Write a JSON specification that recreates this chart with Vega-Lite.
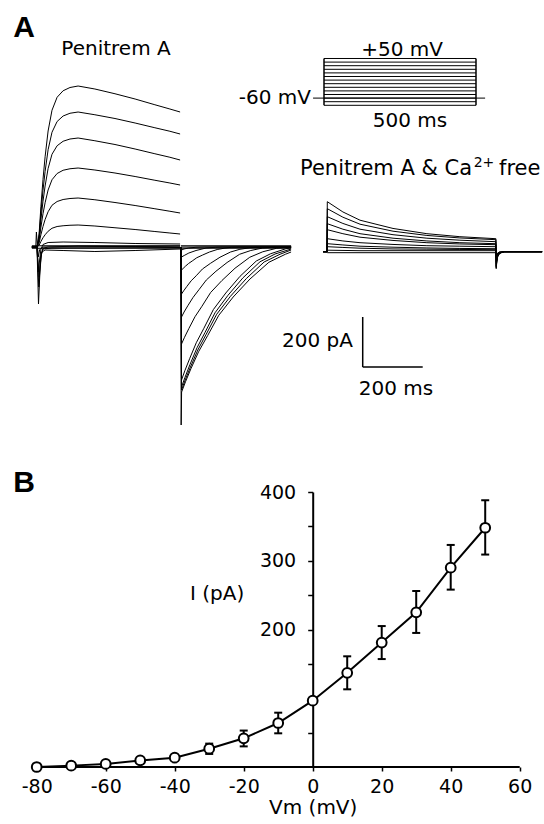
{
"$schema": "https://vega.github.io/schema/vega-lite/v6.json",
"padding": 0,
"spacing": 0,
"bounds": "flush",
"background": "white",
"config": {"view": {"stroke": null}, "font": "DejaVu Sans", "text": {"font": "DejaVu Sans", "color": "black"},
 "axisX": {"domain": false, "grid": false, "tickSize": 4, "tickWidth": 1.5, "tickColor": "black", "labelFont": "DejaVu Sans", "labelFontSize": 19, "labelColor": "black", "labelPadding": 6, "labelFlush": false, "labelOverlap": false, "titleFont": "DejaVu Sans", "titleFontSize": 20, "titleFontWeight": "normal", "titleColor": "black", "titleX": 312.7, "titleY": 46, "titleBaseline": "alphabetic"},
 "axisY": {"grid": false, "domainWidth": 2, "domainColor": "black", "tickSize": 5, "tickWidth": 1.5, "tickColor": "black", "labelFont": "DejaVu Sans", "labelFontSize": 19, "labelColor": "black", "labelPadding": 12}
},
"datasets": {
"lt": [
{"k":"p1","t":-17,"i":0},{"k":"p1","t":0,"i":0},{"k":"p1","t":7,"i":52},{"k":"p1","t":13,"i":161},{"k":"p1","t":20,"i":270},{"k":"p1","t":27,"i":361},{"k":"p1","t":37,"i":464},{"k":"p1","t":50,"i":547},{"k":"p1","t":67,"i":599},{"k":"p1","t":87,"i":625},{"k":"p1","t":110,"i":638},{"k":"p1","t":137,"i":644},{"k":"p1","t":193,"i":632},{"k":"p1","t":260,"i":613},{"k":"p1","t":327,"i":592},{"k":"p1","t":393,"i":569},{"k":"p1","t":443,"i":552},{"k":"p1","t":477,"i":540},
{"k":"p2","t":-17,"i":0},{"k":"p2","t":0,"i":0},{"k":"p2","t":7,"i":43},{"k":"p2","t":13,"i":135},{"k":"p2","t":20,"i":227},{"k":"p2","t":27,"i":302},{"k":"p2","t":37,"i":389},{"k":"p2","t":50,"i":459},{"k":"p2","t":67,"i":502},{"k":"p2","t":87,"i":524},{"k":"p2","t":110,"i":535},{"k":"p2","t":137,"i":540},{"k":"p2","t":193,"i":529},{"k":"p2","t":260,"i":514},{"k":"p2","t":327,"i":496},{"k":"p2","t":393,"i":477},{"k":"p2","t":443,"i":463},{"k":"p2","t":477,"i":452},
{"k":"p3","t":-17,"i":0},{"k":"p3","t":0,"i":0},{"k":"p3","t":7,"i":35},{"k":"p3","t":13,"i":109},{"k":"p3","t":20,"i":183},{"k":"p3","t":27,"i":244},{"k":"p3","t":37,"i":314},{"k":"p3","t":50,"i":371},{"k":"p3","t":67,"i":405},{"k":"p3","t":87,"i":423},{"k":"p3","t":110,"i":432},{"k":"p3","t":137,"i":436},{"k":"p3","t":193,"i":425},{"k":"p3","t":260,"i":410},{"k":"p3","t":327,"i":392},{"k":"p3","t":393,"i":373},{"k":"p3","t":443,"i":359},{"k":"p3","t":477,"i":348},
{"k":"p4","t":-17,"i":0},{"k":"p4","t":0,"i":0},{"k":"p4","t":7,"i":25},{"k":"p4","t":13,"i":79},{"k":"p4","t":20,"i":133},{"k":"p4","t":27,"i":177},{"k":"p4","t":37,"i":228},{"k":"p4","t":50,"i":269},{"k":"p4","t":67,"i":294},{"k":"p4","t":87,"i":307},{"k":"p4","t":110,"i":313},{"k":"p4","t":137,"i":316},{"k":"p4","t":193,"i":308},{"k":"p4","t":260,"i":296},{"k":"p4","t":327,"i":282},{"k":"p4","t":393,"i":267},{"k":"p4","t":443,"i":256},{"k":"p4","t":477,"i":248},
{"k":"p5","t":-17,"i":0},{"k":"p5","t":0,"i":0},{"k":"p5","t":7,"i":16},{"k":"p5","t":13,"i":49},{"k":"p5","t":20,"i":82},{"k":"p5","t":27,"i":110},{"k":"p5","t":37,"i":141},{"k":"p5","t":50,"i":167},{"k":"p5","t":67,"i":182},{"k":"p5","t":87,"i":190},{"k":"p5","t":110,"i":194},{"k":"p5","t":137,"i":196},{"k":"p5","t":193,"i":189},{"k":"p5","t":260,"i":178},{"k":"p5","t":327,"i":166},{"k":"p5","t":393,"i":153},{"k":"p5","t":443,"i":143},{"k":"p5","t":477,"i":136},
{"k":"p6","t":-17,"i":0},{"k":"p6","t":0,"i":0},{"k":"p6","t":7,"i":7},{"k":"p6","t":13,"i":22},{"k":"p6","t":20,"i":37},{"k":"p6","t":27,"i":49},{"k":"p6","t":37,"i":63},{"k":"p6","t":50,"i":75},{"k":"p6","t":67,"i":82},{"k":"p6","t":87,"i":85},{"k":"p6","t":110,"i":87},{"k":"p6","t":137,"i":88},{"k":"p6","t":193,"i":84},{"k":"p6","t":260,"i":77},{"k":"p6","t":327,"i":70},{"k":"p6","t":393,"i":62},{"k":"p6","t":443,"i":56},{"k":"p6","t":477,"i":52},
{"k":"p7","t":-17,"i":0},{"k":"p7","t":0,"i":0},{"k":"p7","t":4,"i":-100},{"k":"p7","t":8,"i":-60},{"k":"p7","t":13,"i":-10},{"k":"p7","t":20,"i":10},{"k":"p7","t":37,"i":18},{"k":"p7","t":87,"i":20},{"k":"p7","t":193,"i":18},{"k":"p7","t":327,"i":14},{"k":"p7","t":477,"i":12},
{"k":"p8","t":-17,"i":0},{"k":"p8","t":0,"i":0},{"k":"p8","t":5,"i":-228},{"k":"p8","t":9,"i":-120},{"k":"p8","t":14,"i":-30},{"k":"p8","t":20,"i":-5},{"k":"p8","t":37,"i":0},{"k":"p8","t":137,"i":4},{"k":"p8","t":327,"i":2},{"k":"p8","t":477,"i":0},
{"k":"p9","t":-17,"i":0},{"k":"p9","t":0,"i":0},{"k":"p9","t":6,"i":-160},{"k":"p9","t":10,"i":-80},{"k":"p9","t":16,"i":-20},{"k":"p9","t":27,"i":-12},{"k":"p9","t":87,"i":-14},{"k":"p9","t":193,"i":-18},{"k":"p9","t":327,"i":-14},{"k":"p9","t":477,"i":-8},
{"k":"p10","t":-17,"i":0},{"k":"p10","t":0,"i":0},{"k":"p10","t":7,"i":-120},{"k":"p10","t":12,"i":-40},{"k":"p10","t":20,"i":-8},{"k":"p10","t":50,"i":-4},{"k":"p10","t":477,"i":-2},
{"k":"p11","t":-17,"i":0},{"k":"p11","t":-4,"i":0},{"k":"p11","t":-2,"i":60},{"k":"p11","t":1,"i":10},{"k":"p11","t":4,"i":-40},{"k":"p11","t":9,"i":-10},{"k":"p11","t":20,"i":0},{"k":"p11","t":477,"i":4},
{"k":"p12","t":-17,"i":5},{"k":"p12","t":477,"i":5},
{"k":"p13","t":-17,"i":-5},{"k":"p13","t":477,"i":-5},
{"k":"q1","t":480,"i":0},{"k":"q1","t":480.5,"i":-712},{"k":"q1","t":482,"i":-580},{"k":"q1","t":495,"i":-539},{"k":"q1","t":513,"i":-487},{"k":"q1","t":539,"i":-418},{"k":"q1","t":569,"i":-354},{"k":"q1","t":606,"i":-273},{"k":"q1","t":654,"i":-200},{"k":"q1","t":710,"i":-128},{"k":"q1","t":773,"i":-61},{"k":"q1","t":828,"i":-29},{"k":"q1","t":847,"i":-20},
{"k":"q2","t":480,"i":0},{"k":"q2","t":481.7,"i":-572},{"k":"q2","t":494,"i":-532},{"k":"q2","t":511.5,"i":-480},{"k":"q2","t":536,"i":-412},{"k":"q2","t":564,"i":-349},{"k":"q2","t":599,"i":-269},{"k":"q2","t":645,"i":-197},{"k":"q2","t":698,"i":-126},{"k":"q2","t":757,"i":-60},{"k":"q2","t":810,"i":-29},{"k":"q2","t":847,"i":-12},
{"k":"q3","t":480,"i":0},{"k":"q3","t":481.7,"i":-560},{"k":"q3","t":493.4,"i":-521},{"k":"q3","t":510,"i":-470},{"k":"q3","t":533.4,"i":-403},{"k":"q3","t":560,"i":-342},{"k":"q3","t":593.4,"i":-263},{"k":"q3","t":636.7,"i":-193},{"k":"q3","t":686.7,"i":-123},{"k":"q3","t":743.4,"i":-59},{"k":"q3","t":793.4,"i":-28},{"k":"q3","t":847,"i":-8},
{"k":"q4","t":480,"i":0},{"k":"q4","t":481.7,"i":-532},{"k":"q4","t":492.8,"i":-495},{"k":"q4","t":508.7,"i":-447},{"k":"q4","t":530.9,"i":-383},{"k":"q4","t":556.3,"i":-325},{"k":"q4","t":588,"i":-250},{"k":"q4","t":629.3,"i":-184},{"k":"q4","t":676.9,"i":-117},{"k":"q4","t":730.9,"i":-56},{"k":"q4","t":778.5,"i":-27},{"k":"q4","t":829.3,"i":-7},{"k":"q4","t":847,"i":-3},
{"k":"q5","t":480,"i":0},{"k":"q5","t":481.7,"i":-388},{"k":"q5","t":491.8,"i":-361},{"k":"q5","t":506.3,"i":-326},{"k":"q5","t":526.6,"i":-279},{"k":"q5","t":549.8,"i":-237},{"k":"q5","t":578.8,"i":-182},{"k":"q5","t":616.5,"i":-134},{"k":"q5","t":660,"i":-85},{"k":"q5","t":709.2,"i":-41},{"k":"q5","t":752.7,"i":-19},{"k":"q5","t":799,"i":-5},{"k":"q5","t":847,"i":0},
{"k":"q6","t":480,"i":0},{"k":"q6","t":481.7,"i":-280},{"k":"q6","t":490.3,"i":-260},{"k":"q6","t":502.7,"i":-235},{"k":"q6","t":520,"i":-202},{"k":"q6","t":539.7,"i":-171},{"k":"q6","t":564.4,"i":-132},{"k":"q6","t":596.5,"i":-97},{"k":"q6","t":633.6,"i":-62},{"k":"q6","t":675.5,"i":-29},{"k":"q6","t":712.6,"i":-14},{"k":"q6","t":752,"i":-4},{"k":"q6","t":803,"i":0},{"k":"q6","t":847,"i":0},
{"k":"q7","t":480,"i":0},{"k":"q7","t":481.7,"i":-188},{"k":"q7","t":489,"i":-175},{"k":"q7","t":499.4,"i":-158},{"k":"q7","t":514,"i":-135},{"k":"q7","t":530.7,"i":-115},{"k":"q7","t":551.5,"i":-88},{"k":"q7","t":578.6,"i":-65},{"k":"q7","t":609.8,"i":-41},{"k":"q7","t":645.2,"i":-20},{"k":"q7","t":676.5,"i":-9},{"k":"q7","t":709.8,"i":-3},{"k":"q7","t":752.5,"i":0},{"k":"q7","t":847,"i":0},
{"k":"q8","t":480,"i":0},{"k":"q8","t":481.7,"i":-92},{"k":"q8","t":487,"i":-86},{"k":"q8","t":494.6,"i":-77},{"k":"q8","t":505.2,"i":-66},{"k":"q8","t":517.3,"i":-56},{"k":"q8","t":532.5,"i":-43},{"k":"q8","t":552.2,"i":-32},{"k":"q8","t":574.9,"i":-20},{"k":"q8","t":600.6,"i":-10},{"k":"q8","t":623.4,"i":-5},{"k":"q8","t":647.6,"i":-1},{"k":"q8","t":678.7,"i":0},{"k":"q8","t":847,"i":0},
{"k":"q9","t":480,"i":0},{"k":"q9","t":481.7,"i":-40},{"k":"q9","t":490.6,"i":-34},{"k":"q9","t":506.2,"i":-24},{"k":"q9","t":530.1,"i":-14},{"k":"q9","t":563.5,"i":-4},{"k":"q9","t":595.7,"i":-1},{"k":"q9","t":617,"i":0},{"k":"q9","t":847,"i":0},
{"k":"q10","t":480,"i":0},{"k":"q10","t":481.7,"i":-12},{"k":"q10","t":490,"i":-8},{"k":"q10","t":505,"i":-4},{"k":"q10","t":530,"i":-1},{"k":"q10","t":560,"i":0},{"k":"q10","t":847,"i":0},
{"k":"q11","t":480,"i":0},{"k":"q11","t":847,"i":0},
{"k":"q12","t":480,"i":5},{"k":"q12","t":847,"i":5},
{"k":"q13","t":480,"i":-5},{"k":"q13","t":847,"i":-5}
],
"rt": [
{"k":"r1","t":-13,"i":0},{"k":"r1","t":0,"i":0},{"k":"r1","t":1,"i":200},{"k":"r1","t":53,"i":159},{"k":"r1","t":110,"i":126},{"k":"r1","t":220,"i":93},{"k":"r1","t":333,"i":72},{"k":"r1","t":443,"i":60},{"k":"r1","t":563,"i":52},{"k":"r1","t":564,"i":-68},{"k":"r1","t":566,"i":-41},{"k":"r1","t":569,"i":-20},{"k":"r1","t":575,"i":-7},{"k":"r1","t":590,"i":0},{"k":"r1","t":717,"i":0},
{"k":"r2","t":-13,"i":0},{"k":"r2","t":0,"i":0},{"k":"r2","t":1,"i":172},{"k":"r2","t":53,"i":138},{"k":"r2","t":110,"i":110},{"k":"r2","t":220,"i":82},{"k":"r2","t":333,"i":65},{"k":"r2","t":443,"i":55},{"k":"r2","t":563,"i":48},{"k":"r2","t":564,"i":-64},{"k":"r2","t":566,"i":-38},{"k":"r2","t":569,"i":-19},{"k":"r2","t":575,"i":-6},{"k":"r2","t":590,"i":0},{"k":"r2","t":717,"i":0},
{"k":"r3","t":-13,"i":0},{"k":"r3","t":0,"i":0},{"k":"r3","t":1,"i":140},{"k":"r3","t":53,"i":113},{"k":"r3","t":110,"i":90},{"k":"r3","t":220,"i":68},{"k":"r3","t":333,"i":54},{"k":"r3","t":443,"i":46},{"k":"r3","t":563,"i":40},{"k":"r3","t":564,"i":-60},{"k":"r3","t":566,"i":-36},{"k":"r3","t":569,"i":-18},{"k":"r3","t":575,"i":-6},{"k":"r3","t":590,"i":0},{"k":"r3","t":717,"i":0},
{"k":"r4","t":-13,"i":0},{"k":"r4","t":0,"i":0},{"k":"r4","t":1,"i":112},{"k":"r4","t":53,"i":90},{"k":"r4","t":110,"i":72},{"k":"r4","t":220,"i":54},{"k":"r4","t":333,"i":43},{"k":"r4","t":443,"i":36},{"k":"r4","t":563,"i":32},{"k":"r4","t":564,"i":-56},{"k":"r4","t":566,"i":-34},{"k":"r4","t":569,"i":-17},{"k":"r4","t":575,"i":-6},{"k":"r4","t":590,"i":0},{"k":"r4","t":717,"i":0},
{"k":"r5","t":-13,"i":0},{"k":"r5","t":0,"i":0},{"k":"r5","t":1,"i":88},{"k":"r5","t":53,"i":72},{"k":"r5","t":110,"i":58},{"k":"r5","t":220,"i":45},{"k":"r5","t":333,"i":36},{"k":"r5","t":443,"i":31},{"k":"r5","t":563,"i":28},{"k":"r5","t":564,"i":-48},{"k":"r5","t":566,"i":-29},{"k":"r5","t":569,"i":-14},{"k":"r5","t":575,"i":-5},{"k":"r5","t":590,"i":0},{"k":"r5","t":717,"i":0},
{"k":"r6","t":-13,"i":0},{"k":"r6","t":0,"i":0},{"k":"r6","t":1,"i":52},{"k":"r6","t":53,"i":43},{"k":"r6","t":110,"i":36},{"k":"r6","t":220,"i":29},{"k":"r6","t":333,"i":24},{"k":"r6","t":443,"i":22},{"k":"r6","t":563,"i":20},{"k":"r6","t":564,"i":-40},{"k":"r6","t":566,"i":-24},{"k":"r6","t":569,"i":-12},{"k":"r6","t":575,"i":-4},{"k":"r6","t":590,"i":0},{"k":"r6","t":717,"i":0},
{"k":"r7","t":-13,"i":0},{"k":"r7","t":0,"i":0},{"k":"r7","t":1,"i":32},{"k":"r7","t":53,"i":27},{"k":"r7","t":110,"i":22},{"k":"r7","t":220,"i":18},{"k":"r7","t":333,"i":15},{"k":"r7","t":443,"i":13},{"k":"r7","t":563,"i":12},{"k":"r7","t":564,"i":-32},{"k":"r7","t":566,"i":-19},{"k":"r7","t":569,"i":-10},{"k":"r7","t":575,"i":-3},{"k":"r7","t":590,"i":0},{"k":"r7","t":717,"i":0},
{"k":"r8","t":-13,"i":0},{"k":"r8","t":0,"i":0},{"k":"r8","t":1,"i":20},{"k":"r8","t":53,"i":17},{"k":"r8","t":110,"i":14},{"k":"r8","t":220,"i":11},{"k":"r8","t":333,"i":10},{"k":"r8","t":443,"i":9},{"k":"r8","t":563,"i":8},{"k":"r8","t":564,"i":-24},{"k":"r8","t":566,"i":-14},{"k":"r8","t":569,"i":-7},{"k":"r8","t":575,"i":-2},{"k":"r8","t":590,"i":0},{"k":"r8","t":717,"i":0},
{"k":"r9","t":-13,"i":0},{"k":"r9","t":0,"i":0},{"k":"r9","t":1,"i":6},{"k":"r9","t":110,"i":4},{"k":"r9","t":563,"i":4},{"k":"r9","t":564,"i":-20},{"k":"r9","t":566,"i":-12},{"k":"r9","t":569,"i":-6},{"k":"r9","t":575,"i":-2},{"k":"r9","t":590,"i":0},{"k":"r9","t":717,"i":0},
{"k":"r10","t":-13,"i":0},{"k":"r10","t":0,"i":0},{"k":"r10","t":1,"i":-4},{"k":"r10","t":563,"i":-4},{"k":"r10","t":564,"i":-16},{"k":"r10","t":566,"i":-10},{"k":"r10","t":569,"i":-5},{"k":"r10","t":575,"i":-2},{"k":"r10","t":590,"i":0},{"k":"r10","t":717,"i":0}
],
"pr": [
{"a":0,"b":500,"v":-80},{"a":0,"b":500,"v":-70},{"a":0,"b":500,"v":-60},{"a":0,"b":500,"v":-50},{"a":0,"b":500,"v":-40},{"a":0,"b":500,"v":-30},{"a":0,"b":500,"v":-20},{"a":0,"b":500,"v":-10},{"a":0,"b":500,"v":0},{"a":0,"b":500,"v":10},{"a":0,"b":500,"v":20},{"a":0,"b":500,"v":30},{"a":0,"b":500,"v":40},{"a":0,"b":500,"v":50}
],
"iv": [
{"vm":-80,"i":0,"lo":0,"hi":0},
{"vm":-70,"i":2,"lo":2,"hi":2},
{"vm":-60,"i":4.5,"lo":4.5,"hi":4.5},
{"vm":-50,"i":9.5,"lo":9.5,"hi":9.5},
{"vm":-40,"i":13.5,"lo":13.5,"hi":13.5},
{"vm":-30,"i":26.6,"lo":19,"hi":34},
{"vm":-20,"i":41.7,"lo":30,"hi":53},
{"vm":-10,"i":64,"lo":49,"hi":79},
{"vm":0,"i":96.5,"lo":96.5,"hi":96.5},
{"vm":10,"i":137,"lo":113,"hi":161},
{"vm":20,"i":181,"lo":157,"hi":205},
{"vm":30,"i":225,"lo":195,"hi":256},
{"vm":40,"i":290,"lo":258,"hi":323},
{"vm":50,"i":348,"lo":309,"hi":388}
]
},
"vconcat": [
{
"width": 544,
"height": 492,
"layer": [
{
"layer": [
{"data": {"name": "lt"},
 "mark": {"type": "line", "color": "black", "strokeWidth": 1},
 "encoding": {
  "x": {"field": "t", "type": "quantitative", "scale": {"domain": [-123.33, 1690], "nice": false, "zero": false}, "axis": null},
  "y": {"field": "i", "type": "quantitative", "scale": {"domain": [-980, 988], "nice": false, "zero": false}, "axis": null},
  "detail": {"field": "k"}}},
{"data": {"values": [{"t": 1085.7, "t2": 1085.7, "i": -480, "i2": -280}, {"t": 1085.7, "t2": 1285.7, "i": -480, "i2": -480}]},
 "mark": {"type": "rule", "color": "black", "strokeWidth": 1.5},
 "encoding": {
  "x": {"field": "t", "type": "quantitative", "scale": {"domain": [-123.33, 1690], "nice": false, "zero": false}, "axis": null},
  "x2": {"field": "t2"},
  "y": {"field": "i", "type": "quantitative", "scale": {"domain": [-980, 988], "nice": false, "zero": false}, "axis": null},
  "y2": {"field": "i2"}}},
{"data": {"values": [{"t": 263.3, "i": 768, "s": "Penitrem A"}, {"t": 1196.7, "i": -592, "s": "200 ms"}]},
 "mark": {"type": "text", "align": "center", "baseline": "alphabetic", "fontSize": 20, "font": "DejaVu Sans", "color": "black"},
 "encoding": {
  "x": {"field": "t", "type": "quantitative", "scale": {"domain": [-123.33, 1690], "nice": false, "zero": false}, "axis": null},
  "y": {"field": "i", "type": "quantitative", "scale": {"domain": [-980, 988], "nice": false, "zero": false}, "axis": null},
  "text": {"field": "s"}}},
{"data": {"values": [{"t": 1053.3, "i": -400, "s": "200 pA"}]},
 "mark": {"type": "text", "align": "right", "baseline": "alphabetic", "fontSize": 20, "font": "DejaVu Sans", "color": "black"},
 "encoding": {
  "x": {"field": "t", "type": "quantitative", "scale": {"domain": [-123.33, 1690], "nice": false, "zero": false}, "axis": null},
  "y": {"field": "i", "type": "quantitative", "scale": {"domain": [-980, 988], "nice": false, "zero": false}, "axis": null},
  "text": {"field": "s"}}},
{"data": {"values": [{"t": -43.3, "i": 840, "s": "A"}, {"t": -43.3, "i": -980, "s": "B"}]},
 "mark": {"type": "text", "align": "center", "baseline": "alphabetic", "fontSize": 30, "font": "Liberation Sans", "fontWeight": "bold", "color": "black"},
 "encoding": {
  "x": {"field": "t", "type": "quantitative", "scale": {"domain": [-123.33, 1690], "nice": false, "zero": false}, "axis": null},
  "y": {"field": "i", "type": "quantitative", "scale": {"domain": [-980, 988], "nice": false, "zero": false}, "axis": null},
  "text": {"field": "s"}}}
]
},
{
"layer": [
{"data": {"name": "rt"},
 "mark": {"type": "line", "color": "black", "strokeWidth": 1},
 "encoding": {
  "x": {"field": "t", "type": "quantitative", "scale": {"domain": [-1090, 723.33], "nice": false, "zero": false}, "axis": null},
  "y": {"field": "i", "type": "quantitative", "scale": {"domain": [-961.2, 1006.8], "nice": false, "zero": false}, "axis": null},
  "detail": {"field": "k"}}},
{"data": {"values": [{"t": -90, "i": 306.8, "s": "Penitrem A & Ca"}, {"t": 573.3, "i": 306.8, "s": "free"}]},
 "mark": {"type": "text", "align": "left", "baseline": "alphabetic", "fontSize": 21, "font": "DejaVu Sans", "color": "black"},
 "encoding": {
  "x": {"field": "t", "type": "quantitative", "scale": {"domain": [-1090, 723.33], "nice": false, "zero": false}, "axis": null},
  "y": {"field": "i", "type": "quantitative", "scale": {"domain": [-961.2, 1006.8], "nice": false, "zero": false}, "axis": null},
  "text": {"field": "s"}}},
{"data": {"values": [{"t": 489, "i": 338.8, "s": "2+"}]},
 "mark": {"type": "text", "align": "left", "baseline": "alphabetic", "fontSize": 14, "font": "DejaVu Sans", "color": "black"},
 "encoding": {
  "x": {"field": "t", "type": "quantitative", "scale": {"domain": [-1090, 723.33], "nice": false, "zero": false}, "axis": null},
  "y": {"field": "i", "type": "quantitative", "scale": {"domain": [-961.2, 1006.8], "nice": false, "zero": false}, "axis": null},
  "text": {"field": "s"}}}
]
},
{
"layer": [
{"data": {"name": "pr"},
 "mark": {"type": "rule", "color": "black", "strokeWidth": 1},
 "encoding": {
  "x": {"field": "a", "type": "quantitative", "scale": {"domain": [-1065.8, 723.7], "nice": false, "zero": false}, "axis": null},
  "x2": {"field": "b"},
  "y": {"field": "v", "type": "quantitative", "scale": {"domain": [-1154.2, 212.5], "nice": false, "zero": false}, "axis": null}}},
{"data": {"values": [{"a": 0, "v": -80, "v2": 50}, {"a": 500, "v": -80, "v2": 50}]},
 "mark": {"type": "rule", "color": "black", "strokeWidth": 1.5},
 "encoding": {
  "x": {"field": "a", "type": "quantitative", "scale": {"domain": [-1065.8, 723.7], "nice": false, "zero": false}, "axis": null},
  "y": {"field": "v", "type": "quantitative", "scale": {"domain": [-1154.2, 212.5], "nice": false, "zero": false}, "axis": null},
  "y2": {"field": "v2"}}},
{"data": {"values": [{"a": -36, "b": 530, "v": -60}]},
 "mark": {"type": "rule", "color": "black", "strokeWidth": 1},
 "encoding": {
  "x": {"field": "a", "type": "quantitative", "scale": {"domain": [-1065.8, 723.7], "nice": false, "zero": false}, "axis": null},
  "x2": {"field": "b"},
  "y": {"field": "v", "type": "quantitative", "scale": {"domain": [-1154.2, 212.5], "nice": false, "zero": false}, "axis": null}}},
{"data": {"values": [{"a": 256.6, "v": 56.9, "s": "+50 mV"}, {"a": 282.9, "v": -138.9, "s": "500 ms"}]},
 "mark": {"type": "text", "align": "center", "baseline": "alphabetic", "fontSize": 20, "font": "DejaVu Sans", "color": "black"},
 "encoding": {
  "x": {"field": "a", "type": "quantitative", "scale": {"domain": [-1065.8, 723.7], "nice": false, "zero": false}, "axis": null},
  "y": {"field": "v", "type": "quantitative", "scale": {"domain": [-1154.2, 212.5], "nice": false, "zero": false}, "axis": null},
  "text": {"field": "s"}}},
{"data": {"values": [{"a": -42.8, "v": -60, "s": "-60 mV"}]},
 "mark": {"type": "text", "align": "right", "baseline": "middle", "fontSize": 20, "font": "DejaVu Sans", "color": "black"},
 "encoding": {
  "x": {"field": "a", "type": "quantitative", "scale": {"domain": [-1065.8, 723.7], "nice": false, "zero": false}, "axis": null},
  "y": {"field": "v", "type": "quantitative", "scale": {"domain": [-1154.2, 212.5], "nice": false, "zero": false}, "axis": null},
  "text": {"field": "s"}}}
]
}
],
"resolve": {"scale": {"x": "independent", "y": "independent"}}
},
{
"width": 544,
"height": 275,
"layer": [
{"data": {"values": [{"vm": -80.5, "vm2": 60, "i": 0}]},
 "mark": {"type": "rule", "color": "black", "strokeWidth": 2},
 "encoding": {
  "x": {"field": "vm", "type": "quantitative", "scale": {"domain": [-90.64, 67.04], "nice": false, "zero": false}, "axis": {"values": [-80, -60, -40, -20, 0, 20, 40, 60], "labelExpr": "toString(datum.value)", "title": "Vm (mV)"}},
  "x2": {"field": "vm2"},
  "y": {"field": "i", "type": "quantitative", "scale": {"domain": [0, 400], "nice": false}, "axis": {"values": [50, 100, 150, 200, 250, 300, 350, 400], "offset": -312.7, "labelExpr": "datum.value >= 200 && datum.value % 100 == 0 ? datum.label : ''", "title": null}}}},
{"data": {"name": "iv"},
 "mark": {"type": "line", "color": "black", "strokeWidth": 2},
 "encoding": {
  "x": {"field": "vm", "type": "quantitative", "scale": {"domain": [-90.64, 67.04], "nice": false, "zero": false}, "axis": {"values": [-80, -60, -40, -20, 0, 20, 40, 60], "labelExpr": "toString(datum.value)", "title": "Vm (mV)"}},
  "y": {"field": "i", "type": "quantitative", "scale": {"domain": [0, 400], "nice": false}, "axis": {"values": [50, 100, 150, 200, 250, 300, 350, 400], "offset": -312.7, "labelExpr": "datum.value >= 200 && datum.value % 100 == 0 ? datum.label : ''", "title": null}}}},
{"data": {"name": "iv"},
 "mark": {"type": "rule", "color": "black", "strokeWidth": 2},
 "encoding": {
  "x": {"field": "vm", "type": "quantitative", "scale": {"domain": [-90.64, 67.04], "nice": false, "zero": false}, "axis": {"values": [-80, -60, -40, -20, 0, 20, 40, 60], "labelExpr": "toString(datum.value)", "title": "Vm (mV)"}},
  "y": {"field": "lo", "type": "quantitative", "scale": {"domain": [0, 400], "nice": false}, "axis": {"values": [50, 100, 150, 200, 250, 300, 350, 400], "offset": -312.7, "labelExpr": "datum.value >= 200 && datum.value % 100 == 0 ? datum.label : ''", "title": null}},
  "y2": {"field": "hi"}}},
{"data": {"name": "iv"},
 "mark": {"type": "tick", "orient": "horizontal", "color": "black", "size": 8, "thickness": 2, "opacity": 1},
 "encoding": {
  "x": {"field": "vm", "type": "quantitative", "scale": {"domain": [-90.64, 67.04], "nice": false, "zero": false}, "axis": {"values": [-80, -60, -40, -20, 0, 20, 40, 60], "labelExpr": "toString(datum.value)", "title": "Vm (mV)"}},
  "y": {"field": "lo", "type": "quantitative", "scale": {"domain": [0, 400], "nice": false}, "axis": {"values": [50, 100, 150, 200, 250, 300, 350, 400], "offset": -312.7, "labelExpr": "datum.value >= 200 && datum.value % 100 == 0 ? datum.label : ''", "title": null}}}},
{"data": {"name": "iv"},
 "mark": {"type": "tick", "orient": "horizontal", "color": "black", "size": 8, "thickness": 2, "opacity": 1},
 "encoding": {
  "x": {"field": "vm", "type": "quantitative", "scale": {"domain": [-90.64, 67.04], "nice": false, "zero": false}, "axis": {"values": [-80, -60, -40, -20, 0, 20, 40, 60], "labelExpr": "toString(datum.value)", "title": "Vm (mV)"}},
  "y": {"field": "hi", "type": "quantitative", "scale": {"domain": [0, 400], "nice": false}, "axis": {"values": [50, 100, 150, 200, 250, 300, 350, 400], "offset": -312.7, "labelExpr": "datum.value >= 200 && datum.value % 100 == 0 ? datum.label : ''", "title": null}}}},
{"data": {"name": "iv"},
 "mark": {"type": "point", "shape": "circle", "filled": true, "fill": "white", "stroke": "black", "strokeWidth": 2, "size": 95, "opacity": 1},
 "encoding": {
  "x": {"field": "vm", "type": "quantitative", "scale": {"domain": [-90.64, 67.04], "nice": false, "zero": false}, "axis": {"values": [-80, -60, -40, -20, 0, 20, 40, 60], "labelExpr": "toString(datum.value)", "title": "Vm (mV)"}},
  "y": {"field": "i", "type": "quantitative", "scale": {"domain": [0, 400], "nice": false}, "axis": {"values": [50, 100, 150, 200, 250, 300, 350, 400], "offset": -312.7, "labelExpr": "datum.value >= 200 && datum.value % 100 == 0 ? datum.label : ''", "title": null}}}},
{"data": {"values": [{"vm": -27.7, "i": 252, "s": "I (pA)"}]},
 "mark": {"type": "text", "align": "center", "baseline": "middle", "fontSize": 20, "font": "DejaVu Sans", "color": "black"},
 "encoding": {
  "x": {"field": "vm", "type": "quantitative", "scale": {"domain": [-90.64, 67.04], "nice": false, "zero": false}, "axis": {"values": [-80, -60, -40, -20, 0, 20, 40, 60], "labelExpr": "toString(datum.value)", "title": "Vm (mV)"}},
  "y": {"field": "i", "type": "quantitative", "scale": {"domain": [0, 400], "nice": false}, "axis": {"values": [50, 100, 150, 200, 250, 300, 350, 400], "offset": -312.7, "labelExpr": "datum.value >= 200 && datum.value % 100 == 0 ? datum.label : ''", "title": null}},
  "text": {"field": "s"}}}
]
}
]
}
